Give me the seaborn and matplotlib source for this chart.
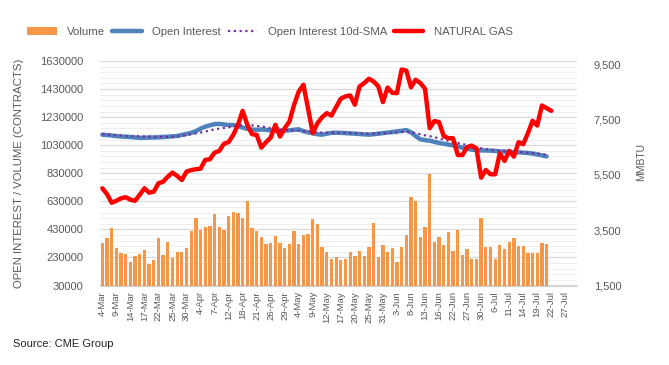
import numpy as np
import pandas as pd
import matplotlib
matplotlib.use("Agg")
import matplotlib.pyplot as plt
import seaborn as sns
from matplotlib.patches import Patch
from matplotlib.lines import Line2D

# ---------------- data ----------------
n_categories = 102  # business days 4-Mar .. 29-Jul
tick_labels = ["4-Mar", "9-Mar", "14-Mar", "17-Mar", "22-Mar", "25-Mar", "30-Mar",
               "4-Apr", "7-Apr", "12-Apr", "18-Apr", "21-Apr", "26-Apr", "29-Apr",
               "4-May", "9-May", "12-May", "17-May", "20-May", "25-May", "31-May",
               "3-Jun", "8-Jun", "13-Jun", "16-Jun", "22-Jun", "27-Jun", "30-Jun",
               "6-Jul", "11-Jul", "14-Jul", "19-Jul", "22-Jul", "27-Jul"]

volume = [331, 367, 438, 296, 260, 253, 200, 239, 257, 281, 181, 210, 367, 246, 343, 224,
          271, 271, 296, 417, 510, 424, 446, 453, 539, 445, 426, 524, 555, 546, 510, 634,
          438, 417, 379, 324, 331, 381, 331, 296, 324, 417, 324, 389, 396, 505, 467, 303,
          271, 217, 231, 210, 219, 267, 239, 274, 239, 303, 474, 234, 317, 267, 296, 196,
          303, 389, 660, 631, 374, 446, 824, 339, 374, 317, 410, 274, 424, 246, 289, 217,
          217, 510, 303, 303, 217, 317, 289, 339, 367, 310, 310, 260, 260, 260, 331, 324]
volume = [v * 1000 for v in volume]

open_interest = [1105, 1102, 1099, 1095, 1092, 1090, 1088, 1085, 1082, 1083, 1084, 1085,
                 1086, 1088, 1090, 1093, 1096, 1103, 1110, 1118, 1130, 1148, 1162, 1172,
                 1180, 1182, 1178, 1174, 1174, 1168, 1155, 1146, 1141, 1140, 1142, 1140,
                 1135, 1134, 1133, 1134, 1136, 1140, 1143, 1130, 1122, 1115, 1108, 1105,
                 1112, 1118, 1119, 1118, 1116, 1114, 1112, 1110, 1107, 1105, 1108, 1112,
                 1116, 1120, 1124, 1128, 1132, 1138, 1122, 1095, 1072, 1066, 1062, 1054,
                 1046, 1040, 1034, 1030, 1022, 1012, 1004, 998, 995, 993, 992, 991,
                 989, 986, 984, 981, 980, 979, 977, 974, 971, 964, 957, 950]
open_interest = [v * 1000 for v in open_interest]

oi_sma10 = [1110, 1106, 1103, 1100, 1098, 1096, 1095, 1094, 1093, 1092, 1091, 1090,
            1090, 1090, 1090, 1091, 1092, 1096, 1102, 1108, 1114, 1120, 1127, 1135,
            1143, 1148, 1153, 1158, 1163, 1169, 1173, 1176, 1171, 1167, 1164, 1158,
            1151, 1146, 1141, 1138, 1137, 1136, 1134, 1130, 1127, 1124, 1121, 1120,
            1119, 1119, 1119, 1118, 1117, 1116, 1115, 1114, 1113, 1112, 1113, 1114,
            1115, 1117, 1119, 1121, 1124, 1124, 1122, 1117, 1108, 1100, 1094, 1088,
            1078, 1069, 1062, 1054, 1045, 1039, 1030, 1021, 1014, 1008, 1002, 998,
            994, 991, 989, 986, 984, 981, 979, 976, 973, 970, 966, 962]
oi_sma10 = [v * 1000 for v in oi_sma10]

natural_gas = [5011, 4800, 4490, 4560, 4650, 4690, 4600, 4560, 4780, 5011, 4852, 4890,
               5192, 5250, 5432, 5576, 5457, 5312, 5612, 5670, 5699, 5720, 6036, 6060,
               6300, 6360, 6620, 6680, 6941, 7303, 7810, 7303, 6966, 6941, 6481, 6677,
               6843, 7303, 6880, 7183, 7422, 8027, 8508, 8751, 7880, 7002, 7364, 7580,
               7726, 7640, 7950, 8250, 8330, 8364, 8030, 8690, 8812, 8968, 8870, 8700,
               8125, 8650, 8460, 8450, 9300, 9265, 8660, 8932, 8812, 8610, 7183, 7440,
               7400, 6900, 6820, 6820, 6217, 6210, 6500, 6554, 6450, 5396, 5674, 5518,
               5518, 6278, 6000, 6362, 6157, 6677, 6604, 7002, 7448, 7278, 8002, 7907,
               7810]

left_ticks = [30000, 230000, 430000, 630000, 830000, 1030000, 1230000, 1430000, 1630000]
right_ticks = [1500, 3500, 5500, 7500, 9500]

# ---------------- style ----------------
sns.set_style("white")
plt.rcParams["font.family"] = ["Liberation Sans", "DejaVu Sans"]
TXT = "#595959"
ORANGE = "#F79646"
BLUE = "#4F81BD"
PURPLE = "#7030A0"
RED = "#FF0000"

df = pd.DataFrame({"idx": np.arange(len(volume)), "volume": volume,
                   "oi": open_interest, "sma": oi_sma10})
df_ng = pd.DataFrame({"idx": np.arange(len(natural_gas)), "ng": natural_gas})

fig = plt.figure(figsize=(6.69, 3.65), dpi=100)
ax = fig.add_axes([100 / 669, 1 - 285.5 / 365, 477 / 669, 224.5 / 365])

sns.barplot(data=df, x="idx", y="volume", native_scale=True, color=ORANGE,
            saturation=1, width=0.7, ax=ax, edgecolor="none", zorder=2)
sns.lineplot(data=df, x="idx", y="oi", color=BLUE, linewidth=3.2, ax=ax, zorder=3)
sns.lineplot(data=df, x="idx", y="sma", color=PURPLE, linewidth=1.6,
             linestyle=(0, (1, 1.6)), ax=ax, zorder=4)

ax2 = ax.twinx()
sns.lineplot(data=df_ng, x="idx", y="ng", color=RED, linewidth=3.2, ax=ax2, zorder=5)

# axes limits / ticks
ax.set_xlim(-0.5, n_categories - 0.5)
ax.set_ylim(30000, 1630000)
ax.set_yticks(left_ticks)
ax.set_yticklabels([str(t) for t in left_ticks])
ax.set_yticks(np.arange(30000, 1630001, 40000), minor=True)
ax2.set_ylim(1500, 9610)
ax2.set_yticks(right_ticks)
ax2.set_yticklabels([f"{t:,}" for t in right_ticks])

ax.set_xticks(np.arange(0, 3 * len(tick_labels), 3))
ax.set_xticklabels(tick_labels, rotation=90)
ax.set_xticks(np.arange(-0.5, n_categories, 1), minor=True)

ax.grid(False)
ax.grid(which="major", axis="y", color="#d9d9d9", linewidth=0.9, zorder=0)
ax.grid(which="minor", axis="y", color="#efefef", linewidth=0.8, zorder=0)
ax.set_axisbelow(True)

ax.tick_params(axis="x", which="major", length=0, pad=4, labelsize=6.8, labelcolor=TXT)
ax.tick_params(axis="x", which="minor", length=3, color="#bfbfbf", width=0.6)
ax.tick_params(axis="y", which="both", length=0, pad=12, labelsize=8, labelcolor=TXT)
ax2.tick_params(axis="y", which="both", length=0, pad=12, labelsize=8, labelcolor=TXT)

for sp in ["top", "left", "right"]:
    ax.spines[sp].set_visible(False)
    ax2.spines[sp].set_visible(False)
ax.spines["bottom"].set_color("#d0d0d0")
ax2.spines["bottom"].set_visible(False)

ax.set_xlabel("")
ax.set_ylabel("OPEN INTEREST / VOLUME (CONTRACTS)", fontsize=8.2, color=TXT)
ax.yaxis.set_label_coords(-0.16, 0.5)
ax2.set_ylabel("MMBTU", fontsize=7.5, color=TXT)
ax2.yaxis.set_label_coords(1.125, 0.55)

# legend
handles = [Patch(facecolor=ORANGE, edgecolor="none"),
           Line2D([], [], color=BLUE, linewidth=3.2),
           Line2D([], [], color=PURPLE, linewidth=1.6, linestyle=(0, (1, 1.6))),
           Line2D([], [], color=RED, linewidth=3.2)]
labels = ["Volume", "Open Interest", "Open Interest 10d-SMA", "NATURAL GAS"]
leg = fig.legend(handles, labels, loc="center", bbox_to_anchor=(270 / 669, 1 - 32 / 365),
                 ncol=4, frameon=False, fontsize=8.2, handlelength=2.6, handletextpad=0.9,
                 columnspacing=0.6)
for t in leg.get_texts():
    t.set_color(TXT)

fig.text(13 / 669, 1 - 344 / 365, "Source: CME Group", fontsize=8, color="#222222",
         va="center", ha="left")

fig.savefig("out.png", dpi=100)
